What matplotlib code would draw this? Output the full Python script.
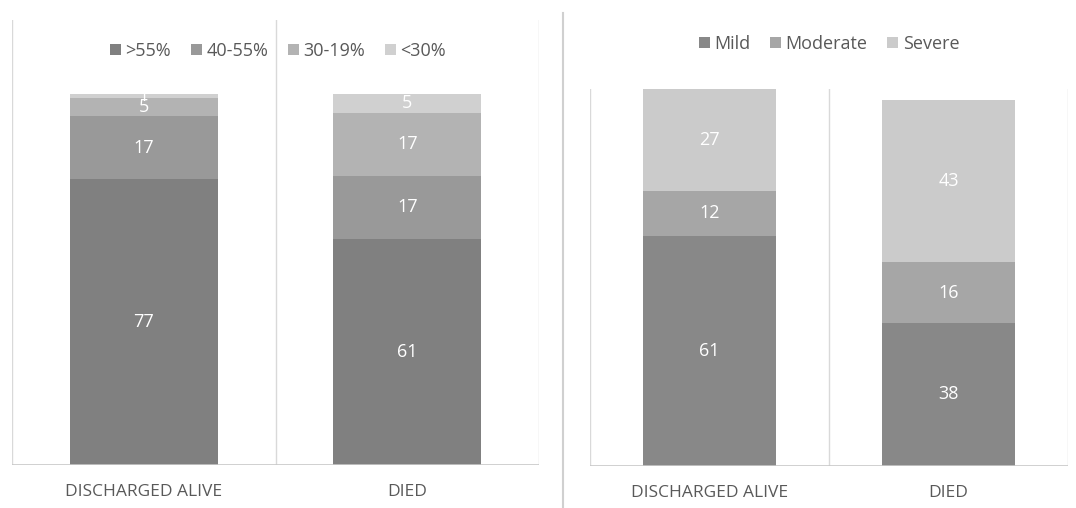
import matplotlib
matplotlib.use("Agg")
import matplotlib.pyplot as plt
from matplotlib.lines import Line2D

plt.rcParams['font.family'] = ['Open Sans', 'DejaVu Sans']

groups = ["DISCHARGED ALIVE", "DIED"]

# left panel: LVEF classes
ef_names = [">55%", "40-55%", "30-19%", "<30%"]
ef_vals = [[77, 61], [17, 17], [5, 17], [1, 5]]
ef_cols = ["#808080", "#999999", "#b3b3b3", "#d0d0d0"]

# right panel: severity
sev_names = ["Mild", "Moderate", "Severe"]
sev_vals = [[61, 38], [12, 16], [27, 43]]
sev_cols = ["#888888", "#a6a6a6", "#cbcbcb"]

W, H = 1076, 508
fig = plt.figure(figsize=(W / 100, H / 100), dpi=100)


def box(x0, y0, x1, y1):
    # pixel box (top-left origin) -> figure fraction
    return [x0 / W, 1 - y1 / H, (x1 - x0) / W, (y1 - y0) / H]


def panel(ax, names, vals, cols, top, width):
    x = range(len(groups))
    bottom = [0] * len(groups)
    for name, v, c in zip(names, vals, cols):
        ax.bar(x, v, width, bottom=bottom, color=c, label=name)
        for i in x:
            ax.text(i, bottom[i] + v[i] / 2, str(v[i]), ha="center", va="center",
                    color="white", fontsize=13)
        bottom = [b + vv for b, vv in zip(bottom, v)]
    ax.set_xlim(-0.5, 1.5)
    ax.set_ylim(0, top)
    for xv in (-0.5, 0.5, 1.5):
        ax.axvline(xv, color="#d9d9d9", lw=1, zorder=0)
    for s in ax.spines.values():
        s.set_visible(False)
    ax.axhline(0, color="#c8c8c8", lw=1.2)
    ax.set_yticks([])
    ax.set_xticks(list(x))
    ax.set_xticklabels(groups, color="#595959", fontsize=12.5)
    ax.tick_params(axis="x", length=0, pad=14)


leg_kw = dict(loc="center", frameon=False, fontsize=13, handlelength=0.6,
              handleheight=0.6, handletextpad=0.25, columnspacing=1.1,
              labelcolor="#595959")

ax1 = fig.add_axes(box(12, 20, 539, 465))
panel(ax1, ef_names, ef_vals, ef_cols, 120, 0.56)
ax1.legend(bbox_to_anchor=(0.505, 1 - 31 / 445), ncol=4, **leg_kw)

ax2 = fig.add_axes(box(590, 89, 1068, 466))
panel(ax2, sev_names, sev_vals, sev_cols, 100, 0.556)
ax2.legend(bbox_to_anchor=(0.5, 1 + 45 / 377), ncol=3, **leg_kw)

fig.add_artist(Line2D([563 / W, 563 / W], [0, 1 - 13 / H], color="#d0d0d0", lw=1.5))

fig.savefig("out.png", dpi=100)
